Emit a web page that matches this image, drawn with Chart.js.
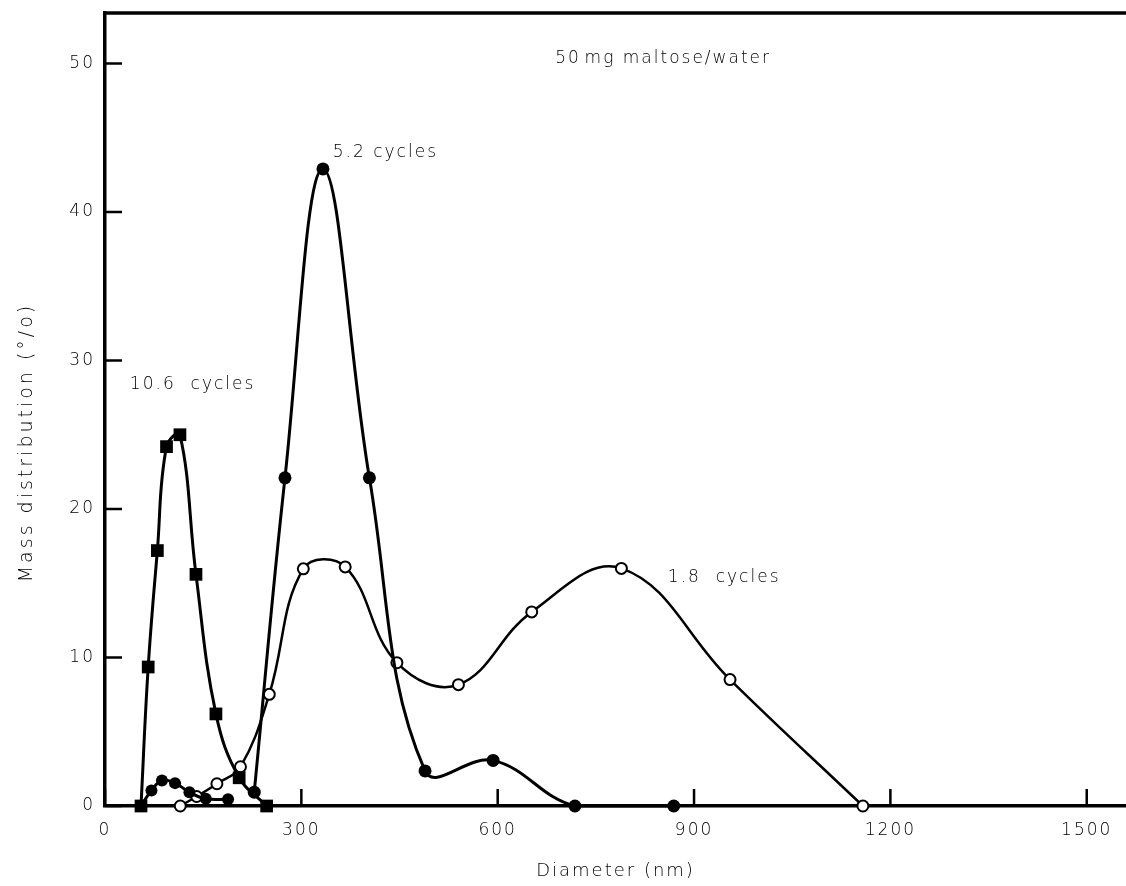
<!DOCTYPE html>
<html>
<head>
<meta charset="utf-8">
<script src="https://cdn.jsdelivr.net/npm/chart.js@4.4.1/dist/chart.umd.min.js"></script>
<style>
  html, body { margin: 0; padding: 0; background: #fff; }
  #wrap { width: 1126px; height: 886px; }
</style>
</head>
<body>
<div id="wrap"><canvas id="chart"></canvas></div>
<script>
// size distributions, diameter (nm) vs mass distribution (%)
const diam106 = [55, 66, 80, 94, 114.5, 139, 169.5, 205, 247];
const mass106 = [0, 9.36, 17.2, 24.2, 25.0, 15.6, 6.2, 1.9, 0];

const diamSmall = [55, 71, 87, 107, 129, 154, 188];
const massSmall = [0, 1.05, 1.72, 1.54, 0.93, 0.49, 0.45];

const diam52 = [228, 275, 333, 404, 489, 593, 718, 869];
const mass52 = [0.93, 22.1, 42.9, 22.1, 2.36, 3.07, 0, 0];

const diam18 = [115, 140, 171, 207, 251, 303, 367, 446, 540, 652, 789, 955, 1158];
const mass18 = [0, 0.64, 1.5, 2.64, 7.52, 15.97, 16.1, 9.65, 8.17, 13.07, 16.0, 8.51, 0];

const xTicks = [0, 300, 600, 900, 1200, 1500];
const yTicks = [0, 10, 20, 30, 40, 50];

// text labels placed in data units
const notes = [
  { text: "50\u200Amg maltose/water", x: 688, y: 50.3 },
  { text: "5.2 cycles", x: 348, y: 44.0 },
  { text: "10.6  cycles", x: 38, y: 28.4 },
  { text: "1.8  cycles", x: 860, y: 15.4 },
];
const yTitle = "Mass distribution (°/o)";

const FONT = "'DejaVu Sans', sans-serif";
const INK = "#000";
const SPACING = "2px";

function pts(xs, ys) {
  return xs.map((x, i) => ({ x: x, y: ys[i] }));
}

const ctx = document.getElementById("chart").getContext("2d");

// wide letter spacing for all chart text
const spacing = {
  id: "spacing",
  beforeUpdate(chart) {
    if ("letterSpacing" in chart.ctx) chart.ctx.letterSpacing = SPACING;
  },
  beforeDraw(chart) {
    if ("letterSpacing" in chart.ctx) chart.ctx.letterSpacing = SPACING;
  },
};

// inward tick marks, top frame line, y title and the curve labels
const extras = {
  id: "extras",
  afterDraw(chart) {
    const c = chart.ctx;
    const xs = chart.scales.x;
    const ys = chart.scales.y;
    const area = chart.chartArea;
    c.save();
    c.strokeStyle = INK;
    c.lineWidth = 2.5;
    c.beginPath();
    xTicks.forEach((v) => {
      const px = xs.getPixelForValue(v);
      c.moveTo(px, area.bottom);
      c.lineTo(px, area.bottom - 17);
    });
    yTicks.forEach((v) => {
      const py = ys.getPixelForValue(v);
      c.moveTo(area.left, py);
      c.lineTo(area.left + 17, py);
    });
    c.stroke();
    c.lineWidth = 3.5;
    c.beginPath();
    c.moveTo(area.left - 1.5, area.top);
    c.lineTo(area.right, area.top);
    c.stroke();

    c.fillStyle = INK;
    c.font = "300 17px " + FONT;
    c.textBaseline = "middle";
    c.textAlign = "left";
    notes.forEach((n) => {
      c.fillText(n.text, xs.getPixelForValue(n.x), ys.getPixelForValue(n.y));
    });

    // rotated y title, a little below the middle of the axis
    c.save();
    c.font = "300 19px " + FONT;
    if ("letterSpacing" in c) c.letterSpacing = "3px";
    c.textAlign = "center";
    c.translate(27, (area.top + area.bottom) / 2 + 33);
    c.rotate(-Math.PI / 2);
    c.fillText(yTitle, 0, 0);
    c.restore();
    c.restore();
  },
};

const lineBase = {
  borderColor: INK,
  borderWidth: 3,
  tension: 0.4,
  fill: false,
  clip: false,
};

const tickFont = { family: FONT, size: 17, weight: 300 };

const myChart = new Chart(ctx, {
  type: "line",
  data: {
    datasets: [
      Object.assign({}, lineBase, {
        label: "10.6 cycles",
        data: pts(diam106, mass106),
        pointStyle: "rect",
        pointRadius: 9,
        pointBackgroundColor: INK,
        pointBorderWidth: 0,
      }),
      Object.assign({}, lineBase, {
        label: "10.6 cycles (small)",
        data: pts(diamSmall, massSmall),
        pointStyle: "circle",
        pointRadius: 6,
        pointBackgroundColor: INK,
        pointBorderWidth: 0,
      }),
      Object.assign({}, lineBase, {
        label: "5.2 cycles",
        data: pts(diam52, mass52),
        pointStyle: "circle",
        pointRadius: 6.5,
        pointBackgroundColor: INK,
        pointBorderWidth: 0,
      }),
      Object.assign({}, lineBase, {
        label: "1.8 cycles",
        data: pts(diam18, mass18),
        borderWidth: 2.5,
        pointStyle: "circle",
        pointRadius: 5.5,
        pointBackgroundColor: "#fff",
        pointBorderColor: INK,
        pointBorderWidth: 2,
      }),
    ],
  },
  options: {
    responsive: true,
    maintainAspectRatio: false,
    animation: false,
    events: [],
    layout: { autoPadding: false, padding: { top: 13, left: 0, right: 0, bottom: 0 } },
    plugins: {
      legend: { display: false },
      tooltip: { enabled: false },
    },
    scales: {
      x: {
        type: "linear",
        min: 0,
        max: 1560,
        grid: { display: false, drawTicks: false },
        border: { display: true, color: INK, width: 3.5 },
        afterBuildTicks(scale) {
          scale.ticks = xTicks.map((v) => ({ value: v }));
        },
        ticks: {
          padding: 14,
          color: INK,
          font: tickFont,
          maxRotation: 0,
          autoSkip: false,
          callback: (v) => String(v),
        },
        title: {
          display: true,
          text: "Diameter (nm)",
          color: INK,
          padding: { top: 0, bottom: 4 },
          font: { family: FONT, size: 18, weight: 300 },
        },
        afterFit(scale) {
          scale.height = 80;
          scale.paddingLeft = 0;
          scale.paddingRight = 0;
        },
      },
      y: {
        min: 0,
        max: 53.4,
        grid: { display: false, drawTicks: false },
        border: { display: true, color: INK, width: 3.5 },
        afterBuildTicks(scale) {
          scale.ticks = yTicks.map((v) => ({ value: v }));
        },
        ticks: {
          padding: 10,
          color: INK,
          font: tickFont,
          callback: (v) => String(v),
        },
        afterFit(scale) {
          scale.width = 105;
          scale.paddingTop = 0;
          scale.paddingBottom = 0;
        },
      },
    },
  },
  plugins: [spacing, extras],
});
</script>
</body>
</html>
